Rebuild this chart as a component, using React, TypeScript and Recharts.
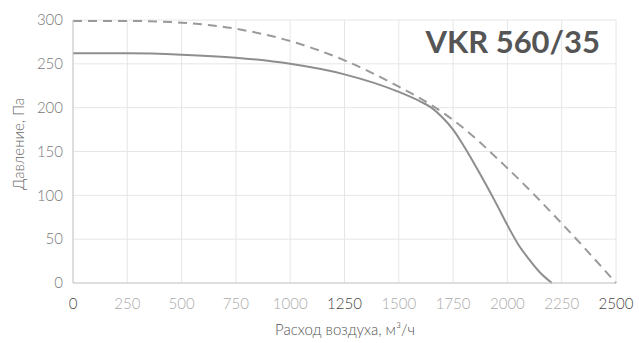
import React from 'react';
import { LineChart, Line, XAxis, YAxis, CartesianGrid, Label } from 'recharts';

const flowSolid = [0, 250, 500, 750, 1000, 1250, 1500, 1600, 1650, 1700, 1750, 1800, 1850, 1900, 1950, 2000, 2050, 2100, 2150, 2205];
const pressureSolid = [262, 262, 260.5, 257, 250, 238, 218, 207, 200, 189, 175, 156, 135, 113, 90, 66, 44, 27, 12, 0];

const flowDashed = [0, 250, 500, 750, 1000, 1250, 1500, 1650, 1750, 2000, 2250, 2500];
const pressureDashed = [299, 299, 297, 290, 276, 254, 224, 203, 186, 131, 68, 0];

const xTicks = [0, 250, 500, 750, 1000, 1250, 1500, 1750, 2000, 2250, 2500];
const yTicks = [0, 50, 100, 150, 200, 250, 300];
const darkXTicks = [0, 1250, 2500];

const title = 'VKR 560/35';
const xTitle = 'Расход воздуха, м³/ч';
const yTitle = 'Давление, Па';

const solidData = flowSolid.map((q, i) => ({ q, p: pressureSolid[i] }));
const dashedData = flowDashed.map((q, i) => ({ q, p: pressureDashed[i] }));

const FONT = 'Lato, "Noto Sans", sans-serif';

const XTick = (props: any) => {
  const { x, y, payload } = props;
  const dark = darkXTicks.includes(payload.value);
  return (
    <text x={x} y={y + 21} dy="0.35em" textAnchor="middle" fontFamily={FONT} fontWeight={300} fontSize={15} fill={dark ? '#444' : '#aaa'}>
      {payload.value}
    </text>
  );
};

const YTick = (props: any) => {
  const { x, y, payload } = props;
  return (
    <text x={x} y={y} dy="0.35em" textAnchor="end" fontFamily={FONT} fontWeight={300} fontSize={15} fill="#777">
      {payload.value}
    </text>
  );
};

export default function App() {
  return (
    <div style={{ position: 'absolute', left: 0, top: 0, width: 639, height: 343, background: '#fff' }}>
      <LineChart width={639} height={343} margin={{ top: 20, right: 23, bottom: 0, left: 0 }}>
        <CartesianGrid stroke="#e6e6e6" strokeWidth={1} />
        <XAxis
          type="number"
          dataKey="q"
          domain={[0, 2500]}
          ticks={xTicks}
          interval={0}
          height={60}
          tickLine={false}
          tickSize={0}
          tickMargin={0}
          axisLine={{ stroke: '#c8c8c8' }}
          tick={<XTick />}
          allowDuplicatedCategory={false}
        >
          <Label
            content={() => (
              <text x={345} y={330} dy="0.35em" textAnchor="middle" fontFamily={FONT} fontWeight={300} fontSize={15} fill="#555">
                {xTitle}
              </text>
            )}
          />
        </XAxis>
        <YAxis
          type="number"
          domain={[0, 300]}
          ticks={yTicks}
          interval={0}
          width={73}
          tickLine={false}
          tickSize={0}
          tickMargin={10}
          axisLine={{ stroke: '#c8c8c8' }}
          tick={<YTick />}
        >
          <Label
            content={() => (
              <text x={19} y={144} dy="0.35em" textAnchor="middle" transform="rotate(-90 19 144)" fontFamily={FONT} fontWeight={300} fontSize={15} fill="#666">
                {yTitle}
              </text>
            )}
          />
        </YAxis>
        <Line data={dashedData} dataKey="p" type="monotone" stroke="#9a9a9a" strokeWidth={2} strokeDasharray="9 6" dot={false} activeDot={false} isAnimationActive={false} />
        <Line data={solidData} dataKey="p" type="monotone" stroke="#8e8e8e" strokeWidth={2} dot={false} activeDot={false} isAnimationActive={false} />
      </LineChart>
      <svg width={639} height={343} style={{ position: 'absolute', left: 0, top: 0, pointerEvents: 'none' }}>
        <text x={600} y={42} dy="0.35em" textAnchor="end" fontFamily={FONT} fontWeight={700} fontSize={31} fill="#555">
          {title}
        </text>
      </svg>
    </div>
  );
}
